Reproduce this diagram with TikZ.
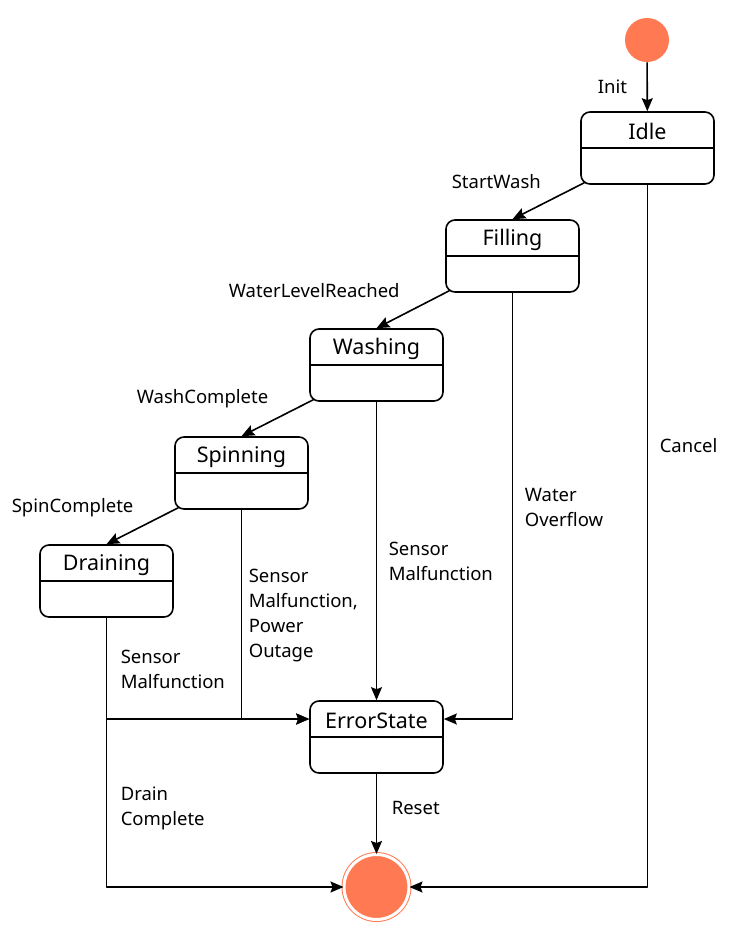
\documentclass[tikz,border=0pt]{standalone}
\usepackage{fontspec}
\setmainfont{Noto Sans}
\usetikzlibrary{arrows.meta}
\definecolor{coral}{HTML}{FF7A52}
\begin{document}
\begin{tikzpicture}[x=1pt, y=-1pt, line cap=round, line join=round, line width=1.6pt, >={Stealth[length=13pt,width=11pt,inset=2pt]}, font=\fontsize{18.5}{25}\selectfont]
	\tikzset{state/.style={draw, rounded corners=9pt, minimum width=133pt, minimum height=72pt, inner sep=0pt,
			path picture={\draw ([yshift=-36pt]path picture bounding box.north west) -- ([yshift=-36pt]path picture bounding box.north east);}},
		title/.style={font=\fontsize{21.5}{25}\selectfont, anchor=center, yshift=-20.5pt},
		lbl/.style={anchor=west, align=left, inner sep=0pt}}
	\useasboundingbox (0,0) rectangle (739,943);
	\node[circle, fill=coral, minimum size=44pt] (start) at (647,40) {};
	\node[state, label={[title]north:Idle}] (idle) at (647.5,148) {};
	\node[state, label={[title]north:Filling}] (filling) at (512.5,256) {};
	\node[state, label={[title]north:Washing}] (washing) at (376.5,365) {};
	\node[state, label={[title]north:Spinning}] (spinning) at (241.5,473) {};
	\node[state, label={[title]north:Draining}] (draining) at (106.5,581) {};
	\node[state, label={[title]north:ErrorState}] (error) at (376.5,737) {};
	\node[circle, fill=coral, draw=coral, double=white, double distance=3pt, line width=1pt, minimum size=65pt] (end) at (376.5,887) {};
	\draw[->] (start) -- (idle);
	\draw[->] ([xshift=4pt,yshift=2pt]idle.south west) -- (filling.north);
	\draw[->] ([xshift=4pt,yshift=2pt]filling.south west) -- (washing.north);
	\draw[->] ([xshift=4pt,yshift=2pt]washing.south west) -- (spinning.north);
	\draw[->] ([xshift=4pt,yshift=2pt]spinning.south west) -- (draining.north);
	\draw[->] (washing) -- (error);
	\draw[->] (filling.south) |- ([yshift=18pt]error.east);
	\draw[->] (spinning.south) |- ([yshift=18pt]error.west);
	\draw[->] (draining.south) |- ([yshift=18pt]error.west);
	\draw[->] (draining.south) |- (end.west);
	\draw[->] (idle.south) |- (end.east);
	\draw[->] (error) -- (end);
	\node[lbl] (linit) at (597,87) {Init};
	\node[lbl] (lstart) at (451,182) {StartWash};
	\node[lbl] (llevel) at (228,291) {WaterLevelReached};
	\node[lbl] (lwash) at (136,399) {WashComplete};
	\node[lbl] (lspin) at (11,508) {SpinComplete};
	\node[lbl] (lsensw) at (388,561.5) {Sensor\\Malfunction};
	\node[lbl] (lover) at (524,507) {Water\\Overflow};
	\node[lbl] (lsenss) at (248,615.5) {Sensor\\Malfunction,\\Power\\Outage};
	\node[lbl] (lsensd) at (120,669.5) {Sensor\\Malfunction};
	\node[lbl] (ldrain) at (120,808.5) {Drain\\Complete};
	\node[lbl] (lcancel) at (659,446) {Cancel};
	\node[lbl] (lreset) at (391,808) {Reset};
\end{tikzpicture}
\end{document}
